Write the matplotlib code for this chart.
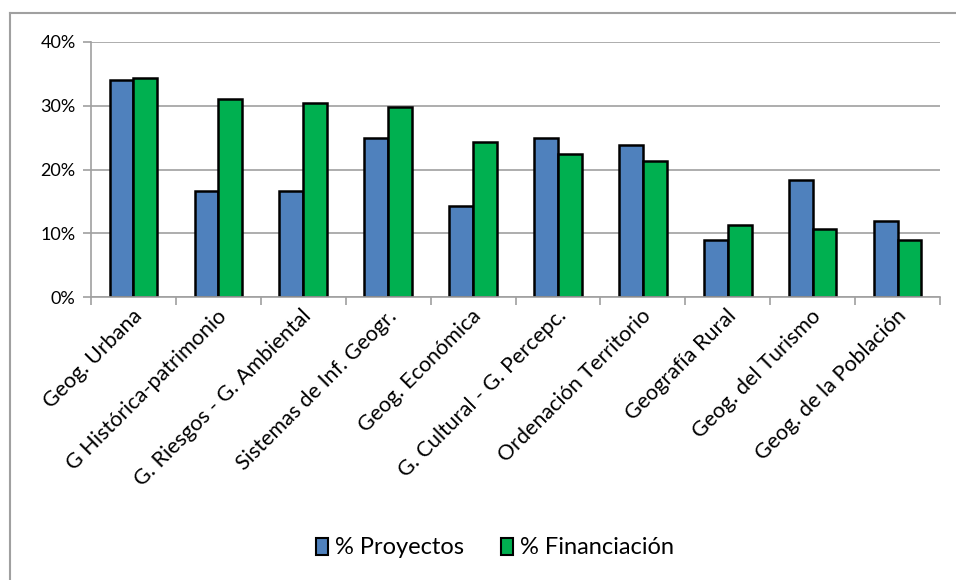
import numpy as np
from matplotlib import pyplot as plt
from matplotlib.lines import Line2D
from matplotlib.patches import Patch
from matplotlib.ticker import PercentFormatter

CATEGORIAS = ["Geog. Urbana", "G Histórica-patrimonio", "G. Riesgos - G. Ambiental",
              "Sistemas de Inf. Geogr.", "Geog. Económica", "G. Cultural - G. Percepc.",
              "Ordenación Territorio", "Geografía Rural", "Geog. del Turismo",
              "Geog. de la Población"]
PROYECTOS = [34.1, 16.6, 16.6, 25.0, 14.3, 25.0, 23.8, 9.0, 18.4, 12.0]
FINANCIACION = [34.3, 31.0, 30.5, 29.8, 24.3, 22.4, 21.4, 11.3, 10.7, 9.0]
Y_TICKS = [0, 10, 20, 30, 40]

AZUL = "#4f81bd"
VERDE = "#00b050"
GRIS = "#a0a0a0"

plt.rcParams["font.family"] = ["Lato", "DejaVu Sans"]

fig = plt.figure(figsize=(9.56, 5.8), dpi=100)
W, H = 956, 580
ax = fig.add_axes([91 / W, 1 - 297 / H, (940 - 91) / W, (297 - 42) / H])

x = np.arange(len(CATEGORIAS))
ancho = 0.28
ax.bar(x - ancho / 2, PROYECTOS, ancho, color=AZUL, edgecolor="black", linewidth=1.8,
       zorder=3)
ax.bar(x + ancho / 2, FINANCIACION, ancho, color=VERDE, edgecolor="black", linewidth=1.8,
       zorder=3)

ax.set_xlim(-0.5, len(CATEGORIAS) - 0.5)
ax.set_ylim(0, 40)
ax.set_yticks(Y_TICKS)
ax.yaxis.set_major_formatter(PercentFormatter(decimals=0))
ax.grid(axis="y", color=GRIS, linewidth=1.2, zorder=0)

for lado in ["top", "right"]:
    ax.spines[lado].set_visible(False)
for lado in ["left", "bottom"]:
    ax.spines[lado].set_color(GRIS)
    ax.spines[lado].set_linewidth(1.2)
    ax.spines[lado].set_zorder(4)

# ticks del eje x entre grupos
ax.set_xticks(np.arange(len(CATEGORIAS) + 1) - 0.5)
ax.set_xticklabels([])
ax.tick_params(axis="x", length=6, color=GRIS, width=1.2, direction="out")
ax.tick_params(axis="y", length=6, color=GRIS, width=1.2, labelsize=13, pad=5)

for i, cat in enumerate(CATEGORIAS):
    ax.text(i + 0.06, -2.5, cat, rotation=45, rotation_mode="anchor",
            ha="right", va="center", fontsize=15.5, transform=ax.transData)

# borde del area del grafico
fig.add_artist(Line2D([9.5 / W, 1], [1 - 12.5 / H, 1 - 12.5 / H], color=GRIS, lw=1.5))
fig.add_artist(Line2D([9.5 / W, 9.5 / W], [0, 1 - 12.5 / H], color=GRIS, lw=1.5))

handles = [Patch(facecolor=AZUL, edgecolor="black", linewidth=1.5),
           Patch(facecolor=VERDE, edgecolor="black", linewidth=1.5)]
fig.legend(handles, ["% Proyectos", "% Financiación"], loc="center",
           bbox_to_anchor=(495 / W, 1 - 548 / H), ncol=2, frameon=False,
           fontsize=17, handlelength=0.5, handleheight=0.7, handletextpad=0.3,
           columnspacing=1.6)

fig.savefig("out.png", dpi=100)
